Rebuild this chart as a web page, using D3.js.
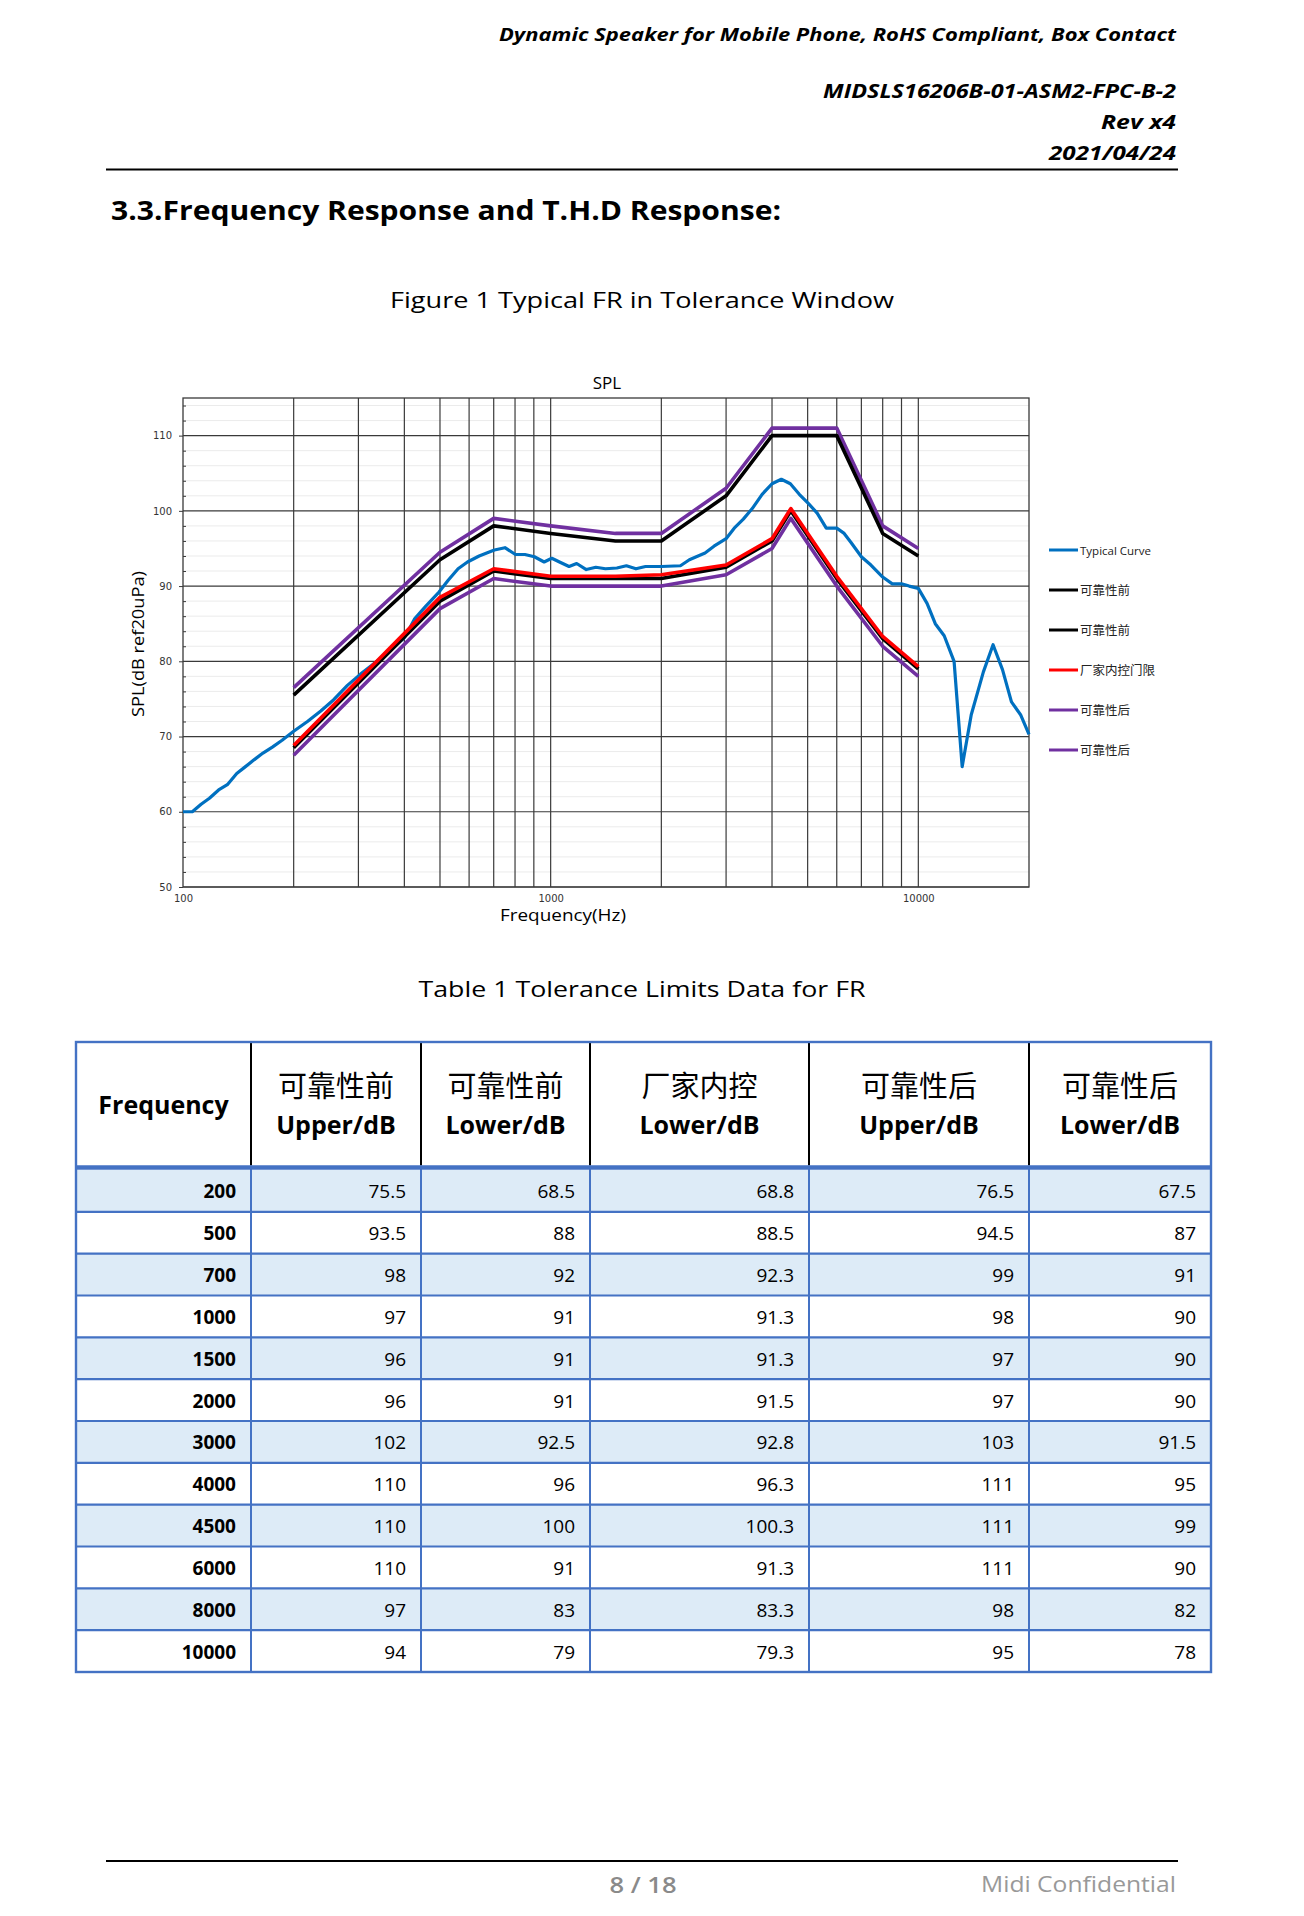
<!DOCTYPE html>
<html>
<head>
<meta charset="utf-8">
<script src="https://cdn.jsdelivr.net/npm/d3@7/dist/d3.min.js"></script>
<style>
  html, body { margin: 0; padding: 0; background: #fff; }
  svg { display: block; }
</style>
</head>
<body>
<svg id="page" width="1304" height="1916"></svg>
<script>
// ---------------- DATA ----------------
const limitFreq      = [200, 500, 700, 1000, 1500, 2000, 3000, 4000, 4500, 6000, 8000, 10000];
const upperBefore    = [75.5, 93.5, 98, 97, 96, 96, 102, 110, 110, 110, 97, 94];
const lowerBefore    = [68.5, 88, 92, 91, 91, 91, 92.5, 96, 100, 91, 83, 79];
const factoryLower   = [68.8, 88.5, 92.3, 91.3, 91.3, 91.5, 92.8, 96.3, 100.3, 91.3, 83.3, 79.3];
const upperAfter     = [76.5, 94.5, 99, 98, 97, 97, 103, 111, 111, 111, 98, 95];
const lowerAfter     = [67.5, 87, 91, 90, 90, 90, 91.5, 95, 99, 90, 82, 78];

const typicalFreq = [100, 106, 112, 118, 125, 132, 140, 147, 156, 165, 175, 186, 200, 218, 237, 257, 280, 304, 335, 369, 401, 426, 457, 497, 527, 560, 594, 639, 670, 703, 751, 802, 851, 903, 960, 1007, 1057, 1122, 1177, 1250, 1327, 1409, 1514, 1607, 1706, 1811, 2000, 2254, 2384, 2630, 2781, 3000, 3157, 3342, 3534, 3760, 4000, 4240, 4487, 4745, 5020, 5307, 5618, 6000, 6284, 6561, 7000, 7431, 8000, 8497, 9000, 9441, 10000, 10562, 11120, 11760, 12510, 13160, 13930, 15030, 15970, 16940, 17920, 18970, 20000];
const typicalSPL  = [60, 60, 61, 61.8, 62.9, 63.6, 65.1, 65.9, 66.9, 67.8, 68.6, 69.5, 70.7, 72.0, 73.4, 74.9, 76.8, 78.3, 79.9, 81.6, 83.2, 85.6, 87.3, 89.2, 90.8, 92.3, 93.2, 94.0, 94.4, 94.8, 95.1, 94.2, 94.2, 93.9, 93.2, 93.7, 93.2, 92.6, 93.0, 92.2, 92.5, 92.3, 92.4, 92.7, 92.3, 92.6, 92.6, 92.7, 93.5, 94.4, 95.3, 96.3, 97.7, 98.9, 100.3, 102.2, 103.6, 104.2, 103.6, 102.2, 101.0, 99.7, 97.7, 97.7, 97.0, 95.8, 93.9, 92.8, 91.2, 90.3, 90.3, 90.0, 89.7, 87.7, 85.0, 83.4, 80.0, 66.0, 72.9, 78.6, 82.2, 78.9, 74.6, 72.9, 70.3];

const seriesNames  = ["Typical Curve", "可靠性前", "可靠性前", "厂家内控门限", "可靠性后", "可靠性后"];
const seriesColors = ["#0070C0", "#000000", "#000000", "#FF0000", "#7030A0", "#7030A0"];

const yTicks      = [50, 60, 70, 80, 90, 100, 110];
const xTickLabels = [100, 1000, 10000];
const xGridFreq   = [200, 300, 400, 500, 600, 700, 800, 900, 1000, 2000, 3000, 4000, 5000, 6000, 7000, 8000, 9000, 10000];

const headerCN = ["", "可靠性前", "可靠性前", "厂家内控", "可靠性后", "可靠性后"];
const headerEN = ["Frequency", "Upper/dB", "Lower/dB", "Lower/dB", "Upper/dB", "Lower/dB"];

// ---------------- PAGE ----------------
const svg = d3.select("#page");
svg.append("rect").attr("width", 1304).attr("height", 1916).attr("fill", "#fff");

const FONT = "'Open Sans', 'Liberation Sans', sans-serif";

function txt(x, y, s, o) {
  const t = svg.append("text").attr("x", x).attr("y", y).text(s)
    .attr("font-family", o.family || FONT)
    .attr("font-size", o.size)
    .attr("font-weight", o.weight || "normal")
    .attr("font-style", o.style || "normal")
    .attr("fill", o.fill || "#000")
    .attr("text-anchor", o.anchor || "start");
  if (o.len) t.attr("textLength", o.len).attr("lengthAdjust", "spacingAndGlyphs");
  return t;
}

// header
txt(499, 41, "Dynamic  Speaker  for  Mobile  Phone,  RoHS  Compliant,  Box  Contact", {size: 18, weight: "bold", style: "italic", len: 677});
txt(823, 98, "MIDSLS16206B-01-ASM2-FPC-B-2", {size: 19, weight: "bold", style: "italic", len: 353});
txt(1101, 129, "Rev  x4", {size: 19, weight: "bold", style: "italic", len: 75});
txt(1049, 160, "2021/04/24", {size: 19, weight: "bold", style: "italic", len: 127});
svg.append("line").attr("x1", 106).attr("x2", 1178).attr("y1", 169.5).attr("y2", 169.5)
  .attr("stroke", "#000").attr("stroke-width", 2);

txt(111, 220, "3.3.Frequency Response and T.H.D Response:", {size: 26, weight: "bold", len: 670});
txt(642, 308, "Figure 1 Typical FR in Tolerance Window", {size: 22, anchor: "middle", len: 504});

// ---------------- CHART ----------------
const L = 183, R = 1029, T = 398, B = 887;
const x = d3.scaleLog().domain([100, 20000]).range([L, R]);
const y = d3.scaleLinear().domain([50, 115]).range([B, T]);

const g = svg.append("g");

// minor horizontal gridlines
const minor = d3.range(52, 115, 2).filter(v => v % 10 !== 0);
g.selectAll("line.minor").data(minor).join("line")
  .attr("x1", L).attr("x2", R).attr("y1", d => y(d)).attr("y2", d => y(d))
  .attr("stroke", "#ebebeb").attr("stroke-width", 1);

// major horizontal gridlines
g.selectAll("line.hmaj").data(yTicks).join("line")
  .attr("x1", L).attr("x2", R).attr("y1", d => y(d)).attr("y2", d => y(d))
  .attr("stroke", "#3a3a3a").attr("stroke-width", 1.2);

// vertical gridlines
g.selectAll("line.vg").data(xGridFreq).join("line")
  .attr("x1", d => x(d)).attr("x2", d => x(d)).attr("y1", T).attr("y2", B)
  .attr("stroke", "#3a3a3a").attr("stroke-width", 1.2);

// border
g.append("rect").attr("x", L).attr("y", T).attr("width", R - L).attr("height", B - T)
  .attr("fill", "none").attr("stroke", "#3a3a3a").attr("stroke-width", 1.3);

// y axis labels + outer ticks
const yAx = svg.append("g").attr("transform", `translate(${L},0)`)
  .call(d3.axisLeft(y).tickValues(yTicks).tickSize(4).tickPadding(7));
yAx.select(".domain").remove();
yAx.selectAll("text").attr("font-family", "'DejaVu Sans', sans-serif").attr("font-size", 10).attr("fill", "#333");
yAx.selectAll("line").attr("stroke", "#3a3a3a");

// minor inner ticks
const yMin = svg.append("g").attr("transform", `translate(${L},0)`)
  .call(d3.axisLeft(y).tickValues(minor).tickSize(-3).tickFormat(""));
yMin.select(".domain").remove();
yMin.selectAll("line").attr("stroke", "#3a3a3a");

// x axis labels
const xAx = svg.append("g").attr("transform", `translate(0,${B})`)
  .call(d3.axisBottom(x).tickValues(xTickLabels).tickSize(0).tickPadding(8).tickFormat(d3.format("d")));
xAx.select(".domain").remove();
xAx.selectAll("text").attr("font-family", "'DejaVu Sans', sans-serif").attr("font-size", 10).attr("fill", "#333");

// titles
txt(607, 389, "SPL", {size: 17, anchor: "middle"});
txt(563, 921, "Frequency(Hz)", {size: 17, anchor: "middle", len: 126});
svg.append("text").attr("transform", "translate(144,644) rotate(-90)")
  .attr("text-anchor", "middle").attr("font-family", FONT).attr("font-size", 16)
  .attr("textLength", 146).attr("lengthAdjust", "spacingAndGlyphs")
  .text("SPL(dB ref20uPa)");

// lines
const line = d3.line().x(d => x(d[0])).y(d => y(d[1]));
const typical = typicalFreq.map((f, i) => [f, typicalSPL[i]]);
const limits = [upperBefore, lowerBefore, factoryLower, upperAfter, lowerAfter]
  .map(arr => limitFreq.map((f, i) => [f, arr[i]]));

const drawOrder = [
  {data: typical, c: seriesColors[0], w: 3.2},
  {data: limits[4], c: seriesColors[5], w: 3.6},
  {data: limits[3], c: seriesColors[4], w: 3.6},
  {data: limits[0], c: seriesColors[1], w: 3.6},
  {data: limits[1], c: seriesColors[2], w: 3.6},
  {data: limits[2], c: seriesColors[3], w: 3.6}
];
drawOrder.forEach(s => {
  svg.append("path").attr("d", line(s.data)).attr("fill", "none")
    .attr("stroke", s.c).attr("stroke-width", s.w)
    .attr("stroke-linejoin", "round").attr("stroke-linecap", "butt");
});

// legend
const leg = svg.append("g");
seriesNames.forEach((n, i) => {
  const ly = 550 + i * 40;
  leg.append("line").attr("x1", 1049).attr("x2", 1078).attr("y1", ly).attr("y2", ly)
    .attr("stroke", seriesColors[i]).attr("stroke-width", 3);
  leg.append("text").attr("x", 1080).attr("y", ly + 4.5).text(n)
    .attr("font-family", i === 0 ? FONT : "'Noto Sans CJK SC', sans-serif")
    .attr("font-size", i === 0 ? 11.5 : 12.5).attr("fill", "#222");
});

// ---------------- TABLE ----------------
txt(642, 997, "Table 1 Tolerance Limits Data for FR", {size: 22, anchor: "middle", len: 447});

const colX = [76, 251, 421, 590, 809, 1029, 1211];
const tTop = 1042, hBot = 1167.5, bTop = 1170, tBot = 1672;
const rows = d3.scaleBand().domain(limitFreq).range([bTop, tBot]);
const cols = [limitFreq, upperBefore, lowerBefore, factoryLower, upperAfter, lowerAfter];
const BLUE = "#4472C4";

const tb = svg.append("g");
// row backgrounds
tb.selectAll("rect.bg").data(limitFreq).join("rect")
  .attr("x", colX[0]).attr("width", colX[6] - colX[0])
  .attr("y", d => rows(d)).attr("height", rows.bandwidth())
  .attr("fill", (d, i) => i % 2 === 0 ? "#DDEBF7" : "#fff");

// cell text
limitFreq.forEach((f, r) => {
  cols.forEach((arr, c) => {
    tb.append("text").attr("x", colX[c + 1] - 15).attr("y", rows(f) + rows.bandwidth() / 2 + 7.5)
      .attr("text-anchor", "end").attr("font-family", FONT).attr("font-size", 19)
      .attr("font-weight", c === 0 ? "bold" : "normal").attr("fill", "#000")
      .text(String(arr[r]));
  });
});

// header text
headerEN.forEach((h, c) => {
  const cx = (colX[c] + colX[c + 1]) / 2;
  if (c === 0) {
    tb.append("text").attr("x", cx).attr("y", 1114).attr("text-anchor", "middle")
      .attr("font-family", FONT).attr("font-size", 25).attr("font-weight", "bold").text(h);
  } else {
    tb.append("text").attr("x", cx).attr("y", 1097).attr("text-anchor", "middle")
      .attr("font-family", "'Noto Sans CJK SC', sans-serif").attr("font-size", 29).attr("font-weight", 400)
      .text(headerCN[c]);
    tb.append("text").attr("x", cx).attr("y", 1134).attr("text-anchor", "middle")
      .attr("font-family", FONT).attr("font-size", 25).attr("font-weight", "bold").text(h);
  }
});

// horizontal body lines
tb.selectAll("line.rl").data(limitFreq.slice(1)).join("line")
  .attr("x1", colX[0]).attr("x2", colX[6]).attr("y1", d => rows(d)).attr("y2", d => rows(d))
  .attr("stroke", BLUE).attr("stroke-width", 2.2);
// vertical body lines
tb.selectAll("line.vb").data(colX.slice(1, 6)).join("line")
  .attr("x1", d => d).attr("x2", d => d).attr("y1", hBot).attr("y2", tBot)
  .attr("stroke", BLUE).attr("stroke-width", 2);
// vertical header lines (black)
tb.selectAll("line.vh").data(colX.slice(1, 6)).join("line")
  .attr("x1", d => d).attr("x2", d => d).attr("y1", tTop).attr("y2", hBot - 2)
  .attr("stroke", "#000").attr("stroke-width", 2);
// header separator
tb.append("line").attr("x1", colX[0]).attr("x2", colX[6]).attr("y1", hBot).attr("y2", hBot)
  .attr("stroke", BLUE).attr("stroke-width", 4.5);
// outer border
tb.append("rect").attr("x", colX[0]).attr("y", tTop).attr("width", colX[6] - colX[0]).attr("height", tBot - tTop)
  .attr("fill", "none").attr("stroke", BLUE).attr("stroke-width", 2.4);

// ---------------- FOOTER ----------------
svg.append("line").attr("x1", 106).attr("x2", 1178).attr("y1", 1861).attr("y2", 1861)
  .attr("stroke", "#000").attr("stroke-width", 2);
txt(643, 1893, "8 / 18", {size: 21, weight: 600, fill: "#8a8a8a", anchor: "middle", len: 67});
txt(981, 1892, "Midi Confidential", {size: 22, fill: "#999", len: 195});
</script>
</body>
</html>
